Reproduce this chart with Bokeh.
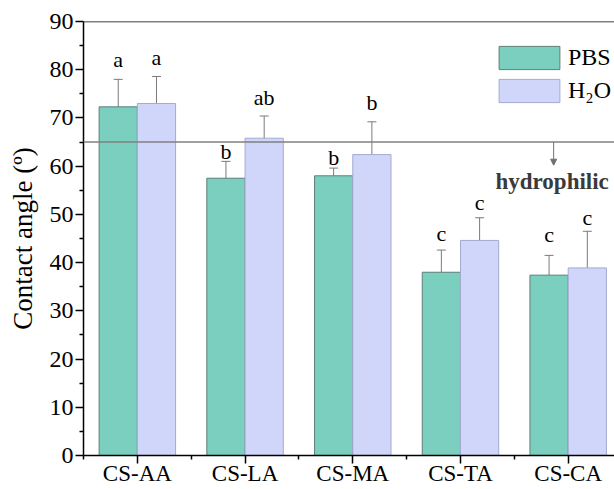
from bokeh.plotting import figure
from bokeh.models import (Range1d, FixedTicker, Span, Whisker, TeeHead, ColumnDataSource,
                          Legend, LegendItem, Arrow, NormalHead, Label)
from bokeh.core.properties import value
from bokeh.embed import file_html
from bokeh.resources import INLINE

categories = ["CS-AA", "CS-LA", "CS-MA", "CS-TA", "CS-CA"]
pbs_mean = [72.3, 57.5, 58.0, 38.0, 37.4]
pbs_err = [5.7, 3.5, 1.6, 4.6, 4.1]
h2o_mean = [73.0, 65.8, 62.4, 44.6, 38.9]
h2o_err = [5.6, 4.6, 6.8, 4.7, 7.6]
pbs_letters = ["a", "b", "b", "c", "c"]
h2o_letters = ["a", "ab", "b", "c", "c"]
pbs_letter_y = [80.9, 61.9, 60.6, 45.0, 44.6]
h2o_letter_y = [81.3, 73.0, 72.0, 51.4, 48.3]
y_ticks = [0, 10, 20, 30, 40, 50, 60, 70, 80, 90]
threshold = 65

FONT = "Liberation Serif"
BW = 0.355

n = len(categories)
centers = [i + 0.5 for i in range(n)]
x_pbs = [c - BW / 2 for c in centers]
x_h2o = [c + BW / 2 for c in centers]

src_p = ColumnDataSource(dict(x=x_pbs, top=pbs_mean, up=[m + e for m, e in zip(pbs_mean, pbs_err)],
                              lo=[m - e for m, e in zip(pbs_mean, pbs_err)], lab=pbs_letters, ly=pbs_letter_y))
src_h = ColumnDataSource(dict(x=x_h2o, top=h2o_mean, up=[m + e for m, e in zip(h2o_mean, h2o_err)],
                              lo=[m - e for m, e in zip(h2o_mean, h2o_err)], lab=h2o_letters, ly=h2o_letter_y))

p = figure(frame_width=531, frame_height=434, output_backend="svg", toolbar_location=None,
           x_range=Range1d(0, 4.93), y_range=Range1d(0, 90),
           min_border_left=83, min_border_top=21, min_border_right=0, min_border_bottom=10)
p.outline_line_color = None
p.grid.grid_line_color = None
p.background_fill_color = "white"

rp = p.vbar(x="x", top="top", width=BW, bottom=0, source=src_p,
            fill_color="#7ACFBF", line_color="#5E7F78", line_width=1)
rh = p.vbar(x="x", top="top", width=BW, bottom=0, source=src_h,
            fill_color="#D0D6FA", line_color="#A4AAD0", line_width=1)

for s in (src_p, src_h):
    w = Whisker(source=s, base="x", upper="up", lower="lo", line_color="#7a7a7a", line_width=1,
                upper_head=TeeHead(size=9, line_color="#7a7a7a", line_width=1),
                lower_head=TeeHead(size=9, line_color="#7a7a7a", line_width=1))
    p.add_layout(w)
    p.text(x="x", y="ly", text="lab", source=s, text_align="center", text_baseline="bottom",
           y_offset=7, text_font=value(FONT), text_font_size="22px", text_color="black")

p.add_layout(Span(location=threshold, dimension="width", line_color="#808080", line_width=1.5))
p.add_layout(Span(location=90, dimension="width", line_color="black", line_width=1.5))

p.add_layout(Arrow(end=NormalHead(size=6, fill_color="#707070", line_color="#707070"),
                   x_start=4.365, y_start=threshold, x_end=4.365, y_end=60.2,
                   line_color="#707070", line_width=1))
p.add_layout(Label(x=3.825, y=56.9, text="hydrophilic", text_font=FONT, text_font_size="23px",
                   text_font_style="bold", text_color="#3a3a3a", text_baseline="alphabetic"))

# axes
p.xaxis.ticker = FixedTicker(ticks=centers, minor_ticks=list(range(n + 1)))
p.xaxis.major_label_overrides = {c: lab for c, lab in zip(centers, categories)}
p.yaxis.ticker = FixedTicker(ticks=y_ticks, minor_ticks=[v + 5 for v in y_ticks[:-1]])
for ax in (p.xaxis, p.yaxis):
    ax.axis_line_color = "black"
    ax.axis_line_width = 1.5
    ax.major_tick_line_color = "black"
    ax.major_tick_line_width = 1.5
    ax.minor_tick_line_color = "black"
    ax.minor_tick_line_width = 1.5
    ax.major_tick_in = 0
    ax.major_tick_out = 8
    ax.minor_tick_in = 0
    ax.minor_tick_out = 4
    ax.major_label_text_font = FONT
    ax.major_label_text_font_size = "24px"
    ax.major_label_text_color = "black"
    ax.major_label_standoff = 2
p.xaxis.major_label_text_font_size = "23px"
p.xaxis.major_label_standoff = -3
p.yaxis.axis_label = "Contact angle (º)"
p.yaxis.axis_label_text_font = FONT
p.yaxis.axis_label_text_font_size = "27px"
p.yaxis.axis_label_text_font_style = "normal"
p.yaxis.axis_label_text_color = "black"
p.yaxis.axis_label_standoff = 9

legend = Legend(items=[LegendItem(label="PBS", renderers=[rp]), LegendItem(label="H₂O", renderers=[rh])],
                location=(408, 350), orientation="vertical",
                glyph_width=76, glyph_height=29, label_height=29, spacing=4, label_standoff=1,
                padding=0, margin=0, border_line_color=None, background_fill_alpha=0,
                label_text_font=FONT, label_text_font_size="24px", label_text_color="black")
p.add_layout(legend)

open("out.html", "w").write(file_html(p, INLINE))
